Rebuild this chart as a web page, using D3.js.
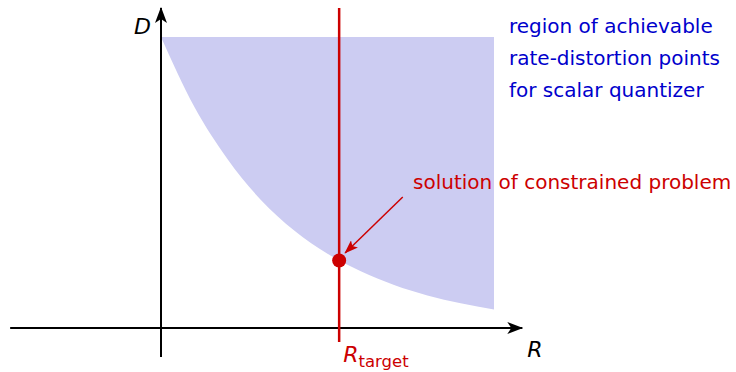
<!DOCTYPE html>
<html>
<head>
<meta charset="utf-8">
<script src="https://cdn.jsdelivr.net/npm/d3@7"></script>
<style>
  body { margin: 0; background: #fff; }
  svg { display: block; }
  text { font-family: "DejaVu Sans", sans-serif; }
</style>
</head>
<body>
<script>
// boundary of the achievable region (rate R, distortion D)
const rates = [0, 0.1, 0.2, 0.3, 0.4, 0.5, 0.6, 0.7, 0.8, 0.9, 1.0]
const distortions = [1.0, 0.76, 0.58, 0.44, 0.335, 0.255, 0.195, 0.148, 0.112, 0.085, 0.064]
const r_target = 0.535
const d_solution = 0.232
const region_labels = ["region of achievable", "rate-distortion points", "for scalar quantizer"]
const solution_label = "solution of constrained problem"

const width = 736, height = 372
const scale_x = d3.scaleLinear().domain([0, 1]).range([161, 494])
const scale_y = d3.scaleLinear().domain([0, 1]).range([328, 37])

const svg = d3.select("body").append("svg")
    .attr("width", width)
    .attr("height", height)

const defs = svg.append("defs")
defs.append("marker")
    .attr("id", "arrow_black")
    .attr("viewBox", "0 0 16 12")
    .attr("refX", 15).attr("refY", 6)
    .attr("markerWidth", 16).attr("markerHeight", 12)
    .attr("markerUnits", "userSpaceOnUse")
    .attr("orient", "auto")
    .append("path")
    .attr("d", "M0,0 L16,6 L0,12 L4,6 Z")
    .attr("fill", "#000")
defs.append("marker")
    .attr("id", "arrow_red")
    .attr("viewBox", "0 0 14 10")
    .attr("refX", 13).attr("refY", 5)
    .attr("markerWidth", 14).attr("markerHeight", 10)
    .attr("markerUnits", "userSpaceOnUse")
    .attr("orient", "auto")
    .append("path")
    .attr("d", "M0,0 L14,5 L0,10 L3,5 Z")
    .attr("fill", "#cc0000")

// shaded region
const pts = rates.map((r, i) => ({ r: r, d: distortions[i] }))
const area = d3.area()
    .x((d) => scale_x(d.r))
    .y0(scale_y(1))
    .y1((d) => scale_y(d.d))
    .curve(d3.curveMonotoneX)
svg.append("path")
    .attr("fill", "#ccccf2")
    .attr("d", area(pts))

// axes
svg.append("line")
    .attr("x1", scale_x(-0.453)).attr("y1", scale_y(0))
    .attr("x2", scale_x(1.085)).attr("y2", scale_y(0))
    .attr("stroke", "#000").attr("stroke-width", 2)
    .attr("marker-end", "url(#arrow_black)")
svg.append("line")
    .attr("x1", scale_x(0)).attr("y1", scale_y(-0.1))
    .attr("x2", scale_x(0)).attr("y2", scale_y(1.1))
    .attr("stroke", "#000").attr("stroke-width", 2)
    .attr("marker-end", "url(#arrow_black)")

svg.append("text")
    .attr("x", scale_x(0) - 10).attr("y", scale_y(1.1) + 26)
    .attr("text-anchor", "end")
    .attr("font-size", 22).attr("font-style", "italic")
    .text("D")
svg.append("text")
    .attr("x", scale_x(1.1)).attr("y", scale_y(-0.1))
    .attr("font-size", 22).attr("font-style", "italic")
    .text("R")

// target rate line
svg.append("line")
    .attr("x1", scale_x(r_target)).attr("y1", scale_y(-0.048))
    .attr("x2", scale_x(r_target)).attr("y2", scale_y(1.1))
    .attr("stroke", "#cc0000").attr("stroke-width", 2.5)
const rt = svg.append("text")
    .attr("x", scale_x(r_target) + 4).attr("y", scale_y(-0.117))
    .attr("fill", "#cc0000")
    .attr("font-size", 22)
rt.append("tspan").attr("font-style", "italic").text("R")
rt.append("tspan").attr("font-size", 16.5).attr("dy", 5).text("target")

// solution point and callout
svg.append("line")
    .attr("x1", scale_x(0.726)).attr("y1", scale_y(0.450))
    .attr("x2", scale_x(0.553)).attr("y2", scale_y(0.258))
    .attr("stroke", "#cc0000").attr("stroke-width", 1.5)
    .attr("marker-end", "url(#arrow_red)")
svg.append("circle")
    .attr("cx", scale_x(r_target)).attr("cy", scale_y(d_solution))
    .attr("r", 7).attr("fill", "#cc0000")
svg.append("text")
    .attr("x", 413).attr("y", 189)
    .attr("fill", "#cc0000").attr("font-size", 20)
    .text(solution_label)

svg.selectAll("text.region")
    .data(region_labels)
    .join("text")
    .attr("class", "region")
    .attr("x", 509)
    .attr("y", (d, i) => 33 + i * 32)
    .attr("fill", "#0000cc").attr("font-size", 20)
    .text((d) => d)
</script>
</body>
</html>
